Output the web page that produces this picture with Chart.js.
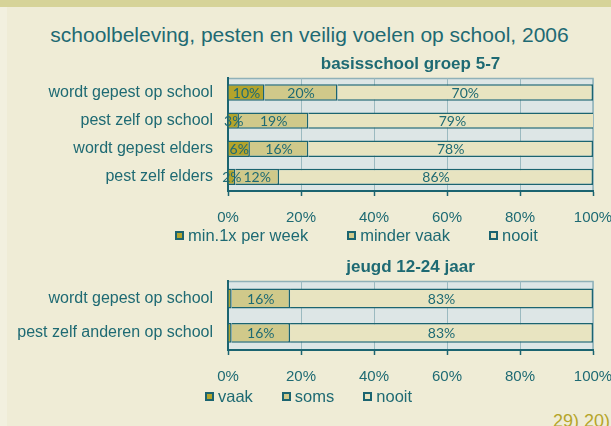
<!DOCTYPE html>
<html>
<head>
<meta charset="utf-8">
<script src="https://cdn.jsdelivr.net/npm/chart.js@4"></script>
<style>
  body { margin: 0; width: 611px; height: 426px; background: #efecd6; overflow: hidden; position: relative;
         font-family: "Liberation Sans", Arial, sans-serif; color: #1e6a73; }
  #band { position: absolute; left: 0; top: 0; width: 611px; height: 7px; background: #d6d398; }
  #edge { position: absolute; left: 0; top: 7px; width: 7px; height: 419px; background: #f2f0df; }
  #title { position: absolute; left: 0; width: 619px; top: 23px; text-align: center; font-size: 21px; line-height: 24px; }
  .wrap { position: absolute; left: 0; width: 611px; }
  #wrap1 { top: 50px; height: 177px; }
  #wrap2 { top: 253px; height: 133px; }
  .legend { position: absolute; display: flex; align-items: center; font-size: 16.5px; line-height: 19px; white-space: nowrap; }
  .legend div { display: flex; align-items: center; }
  .legend .sw { display: inline-block; width: 9px; height: 9px; box-sizing: border-box; border: 2px solid #1b6470; margin-right: 4px; }
  #legend1 { left: 175px; top: 226px; gap: 39px; }
  #legend2 { left: 205px; top: 387px; gap: 29px; }
  #note { position: absolute; right: 1px; top: 409px; font-size: 18px; line-height: 24px; color: #b5a52a; }
</style>
</head>
<body>
<div id="band"></div>
<div id="edge"></div>
<div id="title">schoolbeleving, pesten en veilig voelen op school, 2006</div>
<div class="wrap" id="wrap1"><canvas id="chart1"></canvas></div>
<div class="legend" id="legend1"></div>
<div class="wrap" id="wrap2"><canvas id="chart2"></canvas></div>
<div class="legend" id="legend2"></div>
<div id="note">29) 20)</div>
<script>
// basisschool groep 5-7
const cats1 = ["wordt gepest op school", "pest zelf op school", "wordt gepest elders", "pest zelf elders"];
const weekly1 = [10, 3, 6, 2];
const lessOften1 = [20, 19, 16, 12];
const never1 = [70, 79, 78, 86];
const seriesNames1 = ["min.1x per week", "minder vaak", "nooit"];

// jeugd 12-24 jaar
const cats2 = ["wordt gepest op school", "pest zelf anderen op school"];
const often2 = [1, 1];
const sometimes2 = [16, 16];
const never2 = [83, 83];
const seriesNames2 = ["vaak", "soms", "nooit"];

const teal = "#1e6a73";
const edge = "#1b6470";
const colors = ["#b3a42c", "#d0c98a", "#e8e4c1"];

Chart.defaults.font.family = '"Liberation Sans", Arial, sans-serif';
Chart.defaults.color = teal;

// light plot area with a thin frame on top
const plotBackground = {
  id: "plotBackground",
  beforeDraw(chart) {
    const { ctx, chartArea: a } = chart;
    ctx.save();
    ctx.fillStyle = "#dde6e6";
    ctx.fillRect(a.left, a.top, a.width, a.height);
    ctx.strokeStyle = "#8fb1b8";
    ctx.lineWidth = 1.5;
    ctx.beginPath();
    ctx.moveTo(a.left, a.top);
    ctx.lineTo(a.right, a.top);
    ctx.lineTo(a.right, a.bottom);
    ctx.stroke();
    ctx.restore();
  }
};

// percentage text in the middle of each segment (too thin ones are skipped)
const barLabels = {
  id: "barLabels",
  afterDatasetsDraw(chart) {
    const ctx = chart.ctx;
    ctx.save();
    ctx.font = "14px Lato";
    ctx.fillStyle = teal;
    ctx.textAlign = "center";
    ctx.textBaseline = "middle";
    chart.data.datasets.forEach((ds, i) => {
      chart.getDatasetMeta(i).data.forEach((bar, j) => {
        const v = ds.data[j];
        if (v < 2) return;
        const p = bar.getProps(["x", "y", "base"], true);
        ctx.fillText(v + "%", (p.x + p.base) / 2, p.y + 1);
      });
    });
    ctx.restore();
  }
};

function buildLegend(chart, id) {
  const box = document.getElementById(id);
  chart.data.datasets.forEach((ds) => {
    const item = document.createElement("div");
    const sw = document.createElement("span");
    sw.className = "sw";
    sw.style.background = ds.backgroundColor;
    item.appendChild(sw);
    item.appendChild(document.createTextNode(ds.label));
    box.appendChild(item);
  });
}

function makeChart(canvasId, title, cats, names, values) {
  return new Chart(document.getElementById(canvasId), {
    type: "bar",
    data: {
      labels: cats,
      datasets: values.map((data, i) => ({
        label: names[i],
        data: data,
        backgroundColor: colors[i],
        borderColor: edge,
        borderWidth: 1.5,
        borderSkipped: "start",
        barPercentage: 0.58,
        categoryPercentage: 1,
      })),
    },
    options: {
      indexAxis: "y",
      responsive: true,
      maintainAspectRatio: false,
      animation: false,
      layout: { padding: 0 },
      plugins: {
        legend: { display: false },
        tooltip: { enabled: false },
        title: {
          display: true,
          text: title,
          fullSize: false,
          color: teal,
          font: { size: 17, weight: "bold" },
          padding: { top: 4, bottom: 4 },
        },
      },
      scales: {
        x: {
          stacked: true,
          min: 0,
          max: 100,
          ticks: { stepSize: 20, callback: (v) => v + "%", padding: 13, font: { size: 15 } },
          grid: {
            color: (c) => (c.tick && c.tick.value === 0 ? "rgba(0,0,0,0)" : "#9bbac0"),
            lineWidth: 1,
            tickLength: 5,
            tickColor: edge,
            tickWidth: 1.5,
          },
          border: { color: edge, width: 2 },
          afterFit(scale) {
            // the "100%" label may hang into the right margin
            scale.height = 36;
            scale.paddingRight = 18;
          },
        },
        y: {
          stacked: true,
          ticks: { padding: 15, font: { size: 16 } },
          grid: { display: false, drawTicks: false },
          border: { color: edge, width: 2 },
          afterFit(scale) {
            scale.width = 228;
          },
        },
      },
    },
    plugins: [plotBackground, barLabels],
  });
}

const chart1 = makeChart("chart1", "basisschool groep 5-7", cats1, seriesNames1, [weekly1, lessOften1, never1]);
const chart2 = makeChart("chart2", "jeugd 12-24 jaar", cats2, seriesNames2, [often2, sometimes2, never2]);
buildLegend(chart1, "legend1");
buildLegend(chart2, "legend2");
</script>
</body>
</html>
